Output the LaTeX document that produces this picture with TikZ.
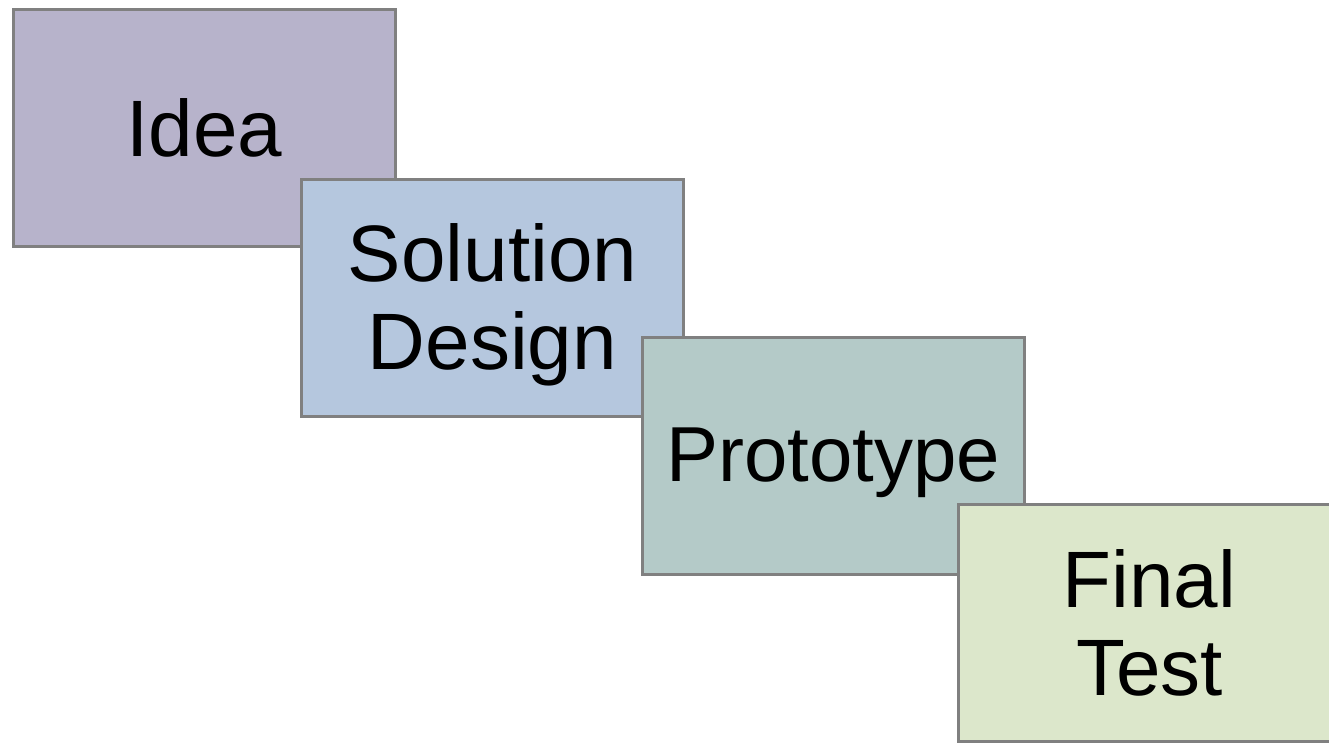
\documentclass[tikz,border=0pt]{standalone}
\usepackage{fontspec}
\setmainfont{Liberation Sans}
\definecolor{ideac}{RGB}{183,179,203}
\definecolor{solc}{RGB}{181,199,222}
\definecolor{protc}{RGB}{180,202,200}
\definecolor{finc}{RGB}{220,231,203}
\definecolor{edgec}{RGB}{128,128,128}
\begin{document}
\begin{tikzpicture}[x=1pt,y=-1pt,
  stagebox/.style={draw=edgec, line width=3pt, rectangle, inner sep=0pt, outer sep=0pt,
    minimum width=382pt, minimum height=237pt},
  lbl/.style={inner sep=0pt, align=center, font=\fontsize{80}{88}\selectfont},
  lblsmall/.style={inner sep=0pt, align=center, font=\fontsize{78}{86}\selectfont}]
\useasboundingbox (0,0) rectangle (1329,742);
\fill[white] (0,0) rectangle (1329,742);
\node[stagebox, fill=ideac] (idea) at (204.5,128) {};
\node[lbl] (idealbl) at (idea.center) {Idea};
\node[stagebox, fill=solc] (sol) at (492.5,297.5) {};
\node[lbl] (sollbl) at ([yshift=-7.5pt]sol.center) {Solution\\Design};
\node[stagebox, fill=protc] (prot) at (833,456) {};
\node[lblsmall] (protlbl) at ([yshift=-7pt]prot.center) {Prototype};
\node[stagebox, fill=finc] (fin) at (1149.5,622.5) {};
\node[lbl] (finlbl) at (fin.center) {Final\\Test};
\end{tikzpicture}
\end{document}
